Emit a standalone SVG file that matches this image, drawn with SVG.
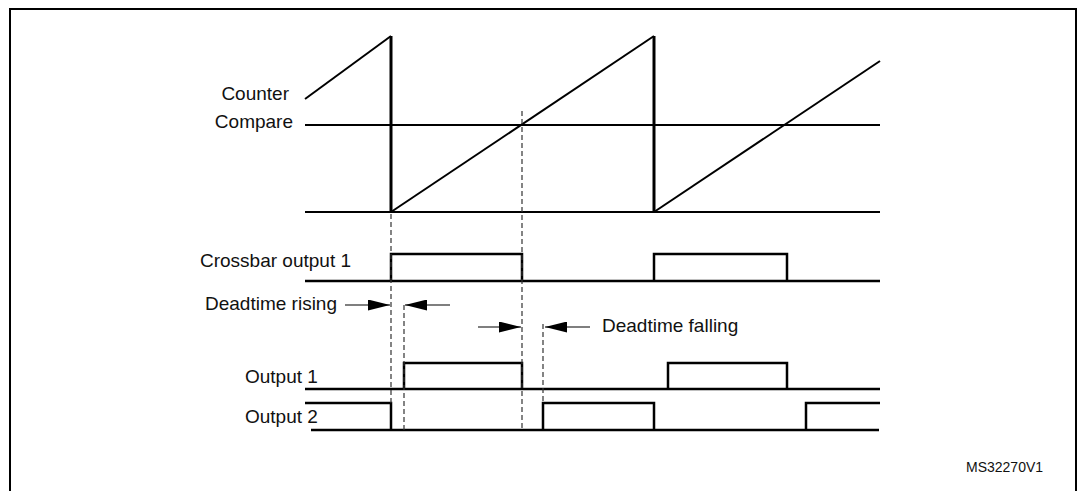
<svg xmlns="http://www.w3.org/2000/svg" width="1086" height="491" viewBox="0 0 1086 491">
<style>
.lbl{font-family:"Liberation Sans",Arial,sans-serif;font-size:19px;fill:#111}
.sm{font-family:"Liberation Sans",Arial,sans-serif;font-size:14px;fill:#111}
.w{fill:none;stroke:#000;stroke-width:2.5;stroke-linejoin:miter;stroke-linecap:butt}
.t{fill:none;stroke:#000;stroke-width:2}
.d{fill:none;stroke:#333;stroke-width:1.2;stroke-dasharray:5,3}
.a{fill:none;stroke:#000;stroke-width:1.2}
</style>
<defs>
<marker id="ah" viewBox="0 0 22 11" refX="22" refY="5.5" markerWidth="22" markerHeight="11" markerUnits="userSpaceOnUse" orient="auto">
<path d="M0,0 L22,5.5 L0,11 Z" fill="#000"/>
</marker>
</defs>
<rect width="1086" height="491" fill="#fff"/>
<path d="M10,491 V9 H1076 V491" fill="none" stroke="#000" stroke-width="2"/>

<g id="labels">
<text class="lbl" x="289" y="100" text-anchor="end">Counter</text>
<text class="lbl" x="293" y="128" text-anchor="end">Compare</text>
<text class="lbl" x="200" y="267">Crossbar output 1</text>
<text class="lbl" x="205" y="310">Deadtime rising</text>
<text class="lbl" x="602" y="332">Deadtime falling</text>
<text class="lbl" x="245" y="383">Output 1</text>
<text class="lbl" x="245" y="423">Output 2</text>
<text class="sm" x="966" y="472">MS32270V1</text>
</g>

<g id="counter">
<line class="t" x1="305" y1="125" x2="880" y2="125"/>
<line class="t" x1="305" y1="212" x2="880" y2="212"/>
<polyline class="t" points="305,99 391,36"/>
<line x1="391" y1="36" x2="391" y2="213" stroke="#000" stroke-width="3"/>
<polyline class="t" points="391,212 654,36"/>
<line x1="654" y1="36" x2="654" y2="213" stroke="#000" stroke-width="3"/>
<polyline class="t" points="654,212 880,61"/>
</g>

<g id="crossbar-output-1">
<line class="w" x1="305" y1="281" x2="880" y2="281"/>
<polyline class="w" points="391,281 391,254 522,254 522,281"/>
<polyline class="w" points="654,281 654,254 787,254 787,281"/>
</g>

<g id="output-1">
<line class="w" x1="305" y1="389" x2="880" y2="389"/>
<polyline class="w" points="404,389 404,363 522,363 522,389"/>
<polyline class="w" points="668,389 668,363 787,363 787,389"/>
</g>

<g id="output-2">
<line class="w" x1="311" y1="430" x2="879" y2="430"/>
<polyline class="w" points="305,403 391,403 391,430"/>
<polyline class="w" points="543,430 543,403 654,403 654,430"/>
<polyline class="w" points="806,430 806,403 880,403"/>
</g>

<g id="connectors">
<line class="d" x1="391" y1="214" x2="391" y2="403"/>
<line class="d" x1="404" y1="305" x2="404" y2="430"/>
<line class="d" x1="522" y1="111" x2="522" y2="430"/>
<line class="d" x1="543" y1="324" x2="543" y2="403"/>
<line class="a" x1="345" y1="305" x2="390" y2="305" marker-end="url(#ah)"/>
<line class="a" x1="450" y1="305" x2="405" y2="305" marker-end="url(#ah)"/>
<line class="a" x1="478" y1="327" x2="521" y2="327" marker-end="url(#ah)"/>
<line class="a" x1="590" y1="327" x2="545" y2="327" marker-end="url(#ah)"/>
</g>
</svg>
